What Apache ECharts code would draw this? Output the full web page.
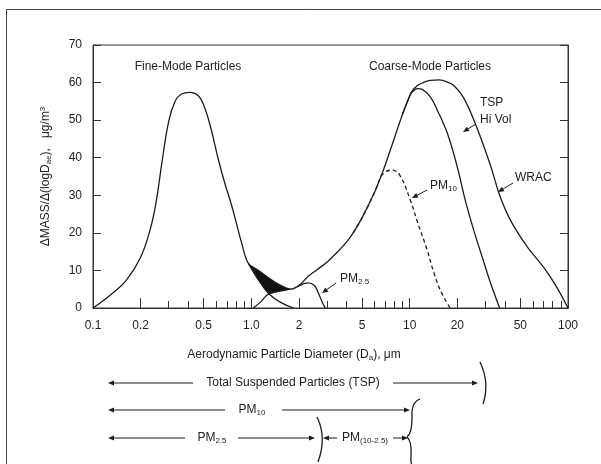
<!DOCTYPE html>
<html>
<head>
<meta charset="utf-8">
<script src="https://cdn.jsdelivr.net/npm/echarts@6/dist/echarts.min.js"></script>
<style>
  html, body { margin: 0; padding: 0; background: #fff; }
  #chart { width: 601px; height: 464px; }
</style>
</head>
<body>
<div id="chart"></div>
<script>
// [diameter um, dMass/dlogD ug/m3]
const wracCurve = [
  [0.1, 0], [0.13, 3.6], [0.163, 7.5], [0.2, 13.5], [0.23, 21], [0.25, 28], [0.272, 38.5],
  [0.3, 49.5], [0.33, 55], [0.36, 56.9], [0.41, 57.4], [0.46, 56.6], [0.5, 54],
  [0.55, 48.5], [0.62, 39.4], [0.68, 33.2], [0.74, 28.2], [0.8, 23], [0.87, 17.2],
  [0.96, 11.8], [1.11, 10.0], [1.29, 8.0], [1.49, 6.3], [1.77, 5.0], [2.0, 6.0],
  [2.28, 8.4], [2.6, 10.2], [3.0, 12.2], [3.5, 14.9], [4.0, 17.6], [4.4, 20], [5.0, 24],
  [6.0, 30.8], [6.5, 34.4], [7.0, 38], [8.0, 45.2], [9.0, 51.5], [9.7, 55],
  [10.3, 57.6], [11.2, 59.2], [12.2, 60], [13.5, 60.6], [15.3, 60.7], [17.2, 60.2], [19.0, 59.2], [21.9, 56],
  [26.4, 48.3], [32.6, 37.6], [37, 30], [43.5, 23.2], [55.3, 16.3], [70.8, 10.6],
  [85, 5.5], [100, 0]
];
const tspHiVol = [
  [9.0, 51.5], [9.7, 55], [10.3, 57.3], [11.2, 58.4], [12.0, 58.2], [13.5, 56.2], [15.0, 52.5],
  [17.3, 46.5], [20.0, 37.5], [22.5, 28.5], [25.6, 20.2], [29, 13], [32.5, 6.5], [37, 0]
];
const fineTail = [[0.96, 11.8], [1.11, 7.4], [1.29, 3.8], [1.53, 1.5], [1.85, 0]];
const coarseStart = [[1.03, 0], [1.15, 1.7], [1.29, 3.8], [1.49, 4.4], [1.77, 5.0]];
const pm25Curve = [[1.95, 5.6], [2.1, 6.3], [2.28, 6.7], [2.5, 6.0], [2.65, 4.0], [2.8, 1.6], [2.93, 0]];
const pm10Curve = [
  [4.4, 20], [5.0, 24], [6.0, 30.8], [6.5, 34.4], [7.0, 36.2], [7.8, 36.7], [8.7, 35.2],
  [10.1, 28.7], [11.1, 23.4], [12.9, 15.4], [14.2, 9.5], [15.6, 4.8], [18, 0]
];
// black overlap zone between fine and coarse modes
const overlapTop = [[0.96, 11.8], [1.11, 10.0], [1.29, 8.0], [1.49, 6.3], [1.77, 5.0]];
const overlapBottom = [[0.96, 11.8], [1.11, 7.4], [1.29, 3.8], [1.49, 4.4], [1.77, 5.0]];

const xLabelValues = [0.1, 0.2, 0.5, 1, 2, 5, 10, 20, 50, 100];
const xLabelText = ['0.1', '0.2', '0.5', '1.0', '2', '5', '10', '20', '50', '100'];
const xMinorValues = [0.3, 0.4, 0.6, 0.7, 0.8, 0.9, 3, 4, 6, 7, 8, 9, 30, 40, 60, 70, 80, 90];

const ink = '#1c1c1c';
const font = '"Liberation Sans", Arial, sans-serif';
const rich = {
  m: { fontSize: 12, lineHeight: 14, fontFamily: font, color: '#222', fill: '#222' },
  s: { fontSize: 8, lineHeight: 6, verticalAlign: 'bottom', fontFamily: font, color: '#222', fill: '#222' },
  p: { fontSize: 8, lineHeight: 6, verticalAlign: 'top', fontFamily: font, color: '#222', fill: '#222' }
};

function txt(x, y, text, align) {
  return {
    type: 'text', x: x, y: y, z: 50,
    style: { text: text, rich: rich, fill: '#222', fontSize: 12, fontFamily: font,
      align: align || 'center', verticalAlign: 'middle' }
  };
}
function arrow(x1, y1, x2, y2) {
  const dx = x2 - x1, dy = y2 - y1, len = Math.sqrt(dx * dx + dy * dy);
  const ux = dx / len, uy = dy / len, hl = 6, hw = 2.6;
  const bx = x2 - ux * hl, by = y2 - uy * hl;
  return [
    { type: 'line', z: 50, shape: { x1: x1, y1: y1, x2: bx, y2: by }, style: { stroke: ink, lineWidth: 1 } },
    { type: 'polygon', z: 50, shape: { points: [[x2, y2], [bx - uy * hw, by + ux * hw], [bx + uy * hw, by - ux * hw]] },
      style: { fill: ink } }
  ];
}
// quadratic pieces: [x1, y1, cx, cy, x2, y2]
function brace(parts) {
  return parts.map(function (p) {
    return { type: 'bezierCurve', z: 50,
      shape: { x1: p[0], y1: p[1], cpx1: p[2], cpy1: p[3], x2: p[4], y2: p[5] },
      style: { stroke: ink, lineWidth: 1.3, fill: null } };
  });
}

const chart = echarts.init(document.getElementById('chart'));

function line(data, extra) {
  return Object.assign({
    type: 'line', data: data, symbol: 'none', smooth: 0.4,
    lineStyle: { color: ink, width: 1.3 }, silent: true, z: 3
  }, extra || {});
}

const option = {
  animation: false,
  backgroundColor: '#fff',
  grid: { left: 93, top: 45, right: 33, bottom: 156, show: true, borderColor: '#333', borderWidth: 1 },
  xAxis: [
    {
      type: 'log', logBase: 10, min: 0.1, max: 100,
      axisLine: { lineStyle: { color: '#333' } },
      splitLine: { show: false },
      axisTick: { inside: true, length: 10, customValues: xLabelValues, lineStyle: { color: '#333' } },
      minorTick: { show: false },
      axisLabel: {
        customValues: xLabelValues, margin: 12, color: '#222', fontSize: 12, fontFamily: font,
        formatter: function (v) {
          for (let i = 0; i < xLabelValues.length; i++) {
            if (Math.abs(Math.log10(v) - Math.log10(xLabelValues[i])) < 1e-4) return xLabelText[i];
          }
          return '';
        }
      }
    },
    {
      type: 'log', logBase: 10, min: 0.1, max: 100, position: 'bottom',
      axisLine: { show: false }, splitLine: { show: false }, axisLabel: { show: false },
      axisTick: { inside: true, length: 7, customValues: xMinorValues, lineStyle: { color: '#333' } }
    }
  ],
  yAxis: [
    {
      type: 'value', min: 0, max: 70, interval: 10,
      name: '{m|ΔMASS/Δ(logD}{s|ae}{m|),   μg/m}{p|3}',
      nameLocation: 'middle', nameGap: 40, nameRotate: 90,
      nameTextStyle: { rich: rich, color: '#222', fontSize: 12, fontFamily: font },
      axisLine: { show: true, lineStyle: { color: '#333' } },
      splitLine: { show: false },
      axisTick: { inside: true, length: 8, lineStyle: { color: '#333' } },
      axisLabel: { margin: 11, color: '#222', fontSize: 12, fontFamily: font }
    },
    {
      type: 'value', min: 0, max: 70, interval: 10, position: 'right',
      axisLine: { show: true, lineStyle: { color: '#333' } },
      splitLine: { show: false },
      axisTick: { inside: true, length: 8, lineStyle: { color: '#333' } },
      axisLabel: { show: false }
    }
  ],
  series: [
    {
      type: 'custom', coordinateSystem: 'cartesian2d', data: [[1, 5]], silent: true, z: 2,
      renderItem: function (params, api) {
        const pts = overlapTop.map(function (p) { return api.coord(p); })
          .concat(overlapBottom.slice().reverse().map(function (p) { return api.coord(p); }));
        return { type: 'polygon', shape: { points: pts, smooth: 0.2 }, style: { fill: '#111' } };
      }
    },
    line(wracCurve),
    line(tspHiVol),
    line(fineTail),
    line(coarseStart),
    line(pm25Curve),
    line(pm10Curve, { lineStyle: { color: ink, width: 1.3, type: [4, 3] } })
  ],
  graphic: [
    { type: 'rect', z: 1, shape: { x: 6.5, y: 9.5, width: 700, height: 600 },
      style: { fill: null, stroke: '#444', lineWidth: 1 } },
    txt(188, 67, '{m|Fine-Mode Particles}'),
    txt(430, 67, '{m|Coarse-Mode Particles}'),
    txt(480, 103, '{m|TSP}', 'left'),
    txt(480, 120, '{m|Hi Vol}', 'left'),
    txt(515, 178, '{m|WRAC}', 'left'),
    txt(430, 186, '{m|PM}{s|10}', 'left'),
    txt(340, 279, '{m|PM}{s|2.5}', 'left'),
    txt(294, 355, '{m|Aerodynamic Particle Diameter (D}{s|a}{m|), μm}'),
    txt(293, 383, '{m|Total Suspended Particles (TSP)}'),
    txt(252, 410, '{m|PM}{s|10}'),
    txt(212, 438, '{m|PM}{s|2.5}'),
    txt(365, 438, '{m|PM}{s|(10-2.5)}')
  ].concat(
    brace([[480, 362, 490, 383, 483, 404]]),
    brace([[317, 417, 327, 437, 318, 462]]),
    brace([[420, 399, 411, 402, 412, 418], [412, 418, 412, 433, 407, 437],
           [407, 437, 412, 441, 411, 456], [411, 456, 410, 466, 416, 472]]),
    arrow(476, 124, 463, 132),
    arrow(513, 183, 498, 192),
    arrow(427, 190, 412, 198),
    arrow(336, 283, 322, 293),
    arrow(193, 383, 108, 383),
    arrow(393, 383, 478, 383),
    arrow(225, 410, 108, 410),
    arrow(282, 410, 410, 410),
    arrow(185, 438, 108, 438),
    arrow(238, 438, 315, 438),
    arrow(337, 438, 323, 438),
    arrow(393, 438, 408, 438)
  )
};

chart.setOption(option);
window.onresize = () => { chart.resize(); };
</script>
</body>
</html>
